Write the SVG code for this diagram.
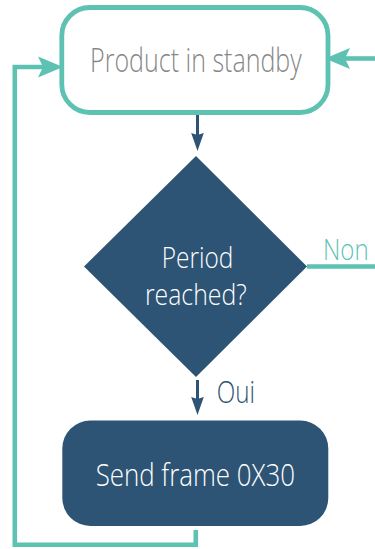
<svg xmlns="http://www.w3.org/2000/svg" width="375" height="549" viewBox="0 0 375 549">
  <style>
    .txt { font-family: "Open Sans", "Liberation Sans", sans-serif; font-weight: 300; }
    .teal { stroke: #5ec2b3; stroke-width: 4.6; fill: none; }
    .dark { stroke: #2d5475; stroke-width: 3; fill: none; }
  </style>
  <defs>
    <marker id="ahTeal" markerUnits="userSpaceOnUse" viewBox="-26 -12 28 24" markerWidth="28" markerHeight="24" refX="-20" refY="0" orient="auto">
      <path d="M0,0 L-25,-10.5 L-20,0 L-25,10.5 Z" fill="#5ec2b3"/>
    </marker>
    <marker id="ahDark" markerUnits="userSpaceOnUse" viewBox="-20 -8 22 16" markerWidth="22" markerHeight="16" refX="-16" refY="0" orient="auto">
      <path d="M0,0 L-18,-6.3 L-16,0 L-18,6.3 Z" fill="#2d5475"/>
    </marker>
  </defs>

  <g id="connectors">
    <path class="dark" d="M197.5,115 V135" marker-end="url(#ahDark)"/>
    <path class="dark" d="M197.5,380 V399" marker-end="url(#ahDark)"/>
    <path class="teal" d="M307,266.5 H375"/>
    <path class="teal" d="M375,58.5 H345" marker-end="url(#ahTeal)"/>
    <path class="teal" d="M195.8,530 V544.8 H14.8 V67 H43" marker-end="url(#ahTeal)"/>
    <text class="txt" transform="translate(323,260) scale(0.8,1)" x="0" y="0" font-size="29.5" fill="#5ec2b3" textLength="57" lengthAdjust="spacingAndGlyphs">Non</text>
    <text class="txt" x="216.7" y="403.3" font-size="31" fill="#2d5475" textLength="38.3" lengthAdjust="spacingAndGlyphs">Oui</text>
  </g>

  <g id="standby">
    <rect x="61.8" y="7.5" width="266.2" height="105" rx="28" ry="28" fill="#ffffff" stroke="#5ec2b3" stroke-width="4.8"/>
    <text class="txt" x="195.9" y="71.7" font-size="32.5" fill="#878787" text-anchor="middle" textLength="211.7" lengthAdjust="spacingAndGlyphs">Product in standby</text>
  </g>

  <g id="period">
    <polygon points="196,156 307,266.5 196,377 84,266.5" fill="#2d5475"/>
    <text class="txt" x="197.5" y="267.7" font-size="29.5" fill="#ffffff" text-anchor="middle" textLength="71.6" lengthAdjust="spacingAndGlyphs">Period</text>
    <text class="txt" x="195.8" y="305" font-size="29.5" fill="#ffffff" text-anchor="middle" textLength="101.7" lengthAdjust="spacingAndGlyphs">reached?</text>
  </g>

  <g id="send">
    <rect x="62.3" y="420.5" width="266" height="105.5" rx="28" ry="28" fill="#2d5475"/>
    <text class="txt" x="195.3" y="486" font-size="31" fill="#ffffff" text-anchor="middle" textLength="199.3" lengthAdjust="spacingAndGlyphs">Send frame 0X30</text>
  </g>
</svg>
